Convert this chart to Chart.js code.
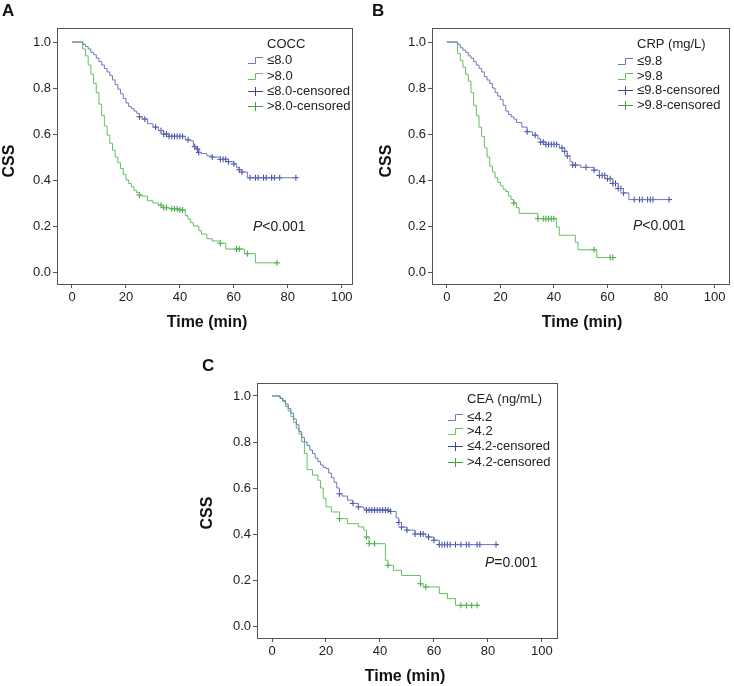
<!DOCTYPE html>
<html>
<head>
<meta charset="utf-8">
<script src="https://cdn.jsdelivr.net/npm/chart.js@4"></script>
<style>
    body { margin: 0; background: #fff; }
    canvas { position: absolute; }
</style>
</head>
<body>
<canvas id="chartA" width="367" height="330" style="left:0;top:0"></canvas>
<canvas id="chartB" width="364" height="330" style="left:370px;top:0"></canvas>
<canvas id="chartC" width="390" height="356" style="left:180px;top:330px"></canvas>
<script>
const xTicks = [0, 20, 40, 60, 80, 100];
const yTicks = [0, 0.2, 0.4, 0.6, 0.8, 1.0];

// Panel A - COCC
const aLowT = [0, 4, 5, 6, 7, 8, 9, 10, 11, 12, 13, 14, 15, 16, 17, 18, 19, 20, 21, 22, 23, 24, 25, 26, 28, 30, 32, 34, 36, 42, 44, 45, 46, 47, 48, 50, 52, 55, 58, 60, 61, 62, 63, 65];
const aLowS = [1.0, 0.99, 0.98, 0.97, 0.955, 0.945, 0.93, 0.915, 0.90, 0.885, 0.87, 0.855, 0.835, 0.815, 0.795, 0.775, 0.755, 0.735, 0.72, 0.71, 0.70, 0.69, 0.675, 0.665, 0.645, 0.63, 0.615, 0.60, 0.59, 0.575, 0.57, 0.545, 0.535, 0.52, 0.515, 0.505, 0.50, 0.49, 0.48, 0.47, 0.455, 0.445, 0.435, 0.41];
const aLowCens = [25, 27, 31, 33, 34, 35, 36, 37, 38, 39, 40, 41, 43, 45.5, 46.5, 47, 52, 55, 56, 57, 58, 60, 62, 63, 66, 68, 69, 71, 72, 74, 75, 77, 83];
const aHighT = [0, 4, 5, 6, 7, 8, 9, 10, 11, 12, 13, 14, 15, 16, 17, 18, 19, 20, 21, 22, 23, 24, 25, 26, 28, 30, 32, 34, 36, 40, 42, 43, 44, 45, 47, 48, 50, 52, 55, 57, 64, 68];
const aHighS = [1.0, 0.97, 0.94, 0.90, 0.86, 0.82, 0.78, 0.73, 0.68, 0.635, 0.595, 0.56, 0.53, 0.50, 0.475, 0.45, 0.425, 0.40, 0.385, 0.37, 0.355, 0.345, 0.335, 0.33, 0.31, 0.30, 0.29, 0.28, 0.275, 0.27, 0.245, 0.23, 0.215, 0.20, 0.18, 0.165, 0.145, 0.135, 0.125, 0.10, 0.08, 0.04];
const aHighCens = [25, 33, 34, 35, 37, 38, 39, 40, 41, 55, 61, 62, 65, 76];

// Panel B - CRP
const bLowT = [0, 4, 5, 6, 7, 8, 9, 10, 11, 12, 13, 14, 15, 16, 17, 18, 19, 20, 21, 22, 23, 24, 25, 26, 28, 30, 32, 34, 35, 37, 42, 44, 45, 46, 47, 50, 55, 57, 60, 62, 64, 66, 68];
const bLowS = [1.0, 0.99, 0.975, 0.965, 0.955, 0.94, 0.93, 0.915, 0.90, 0.885, 0.87, 0.85, 0.835, 0.82, 0.80, 0.78, 0.765, 0.75, 0.725, 0.70, 0.685, 0.675, 0.665, 0.65, 0.63, 0.61, 0.595, 0.58, 0.565, 0.555, 0.54, 0.525, 0.505, 0.48, 0.465, 0.455, 0.443, 0.42, 0.406, 0.385, 0.363, 0.344, 0.315];
const bLowCens = [30, 33, 35, 36, 37, 38, 39, 40, 41, 43, 44, 45, 47, 48, 52, 55, 57, 58, 59, 60, 61, 62, 63, 64, 65, 66, 70, 72, 73, 75, 76, 77, 83];
const bHighT = [0, 4, 5, 6, 7, 8, 9, 10, 11, 12, 13, 14, 15, 16, 17, 18, 19, 20, 21, 22, 23, 24, 25, 26, 27, 34, 41, 42, 48, 49, 56];
const bHighS = [1.0, 0.95, 0.92, 0.89, 0.86, 0.83, 0.78, 0.725, 0.68, 0.63, 0.59, 0.54, 0.50, 0.46, 0.435, 0.41, 0.39, 0.375, 0.36, 0.35, 0.33, 0.315, 0.30, 0.28, 0.255, 0.232, 0.196, 0.16, 0.13, 0.097, 0.063];
const bHighCens = [25, 34, 36, 37, 38, 39, 40, 55, 61, 62];

// Panel C - CEA
const cLowT = [0, 3, 4, 5, 6, 7, 8, 9, 10, 11, 12, 13, 14, 15, 16, 17, 18, 19, 20, 21, 22, 23, 24, 25, 26, 28, 30, 32, 34, 35, 44, 46, 47, 48, 50, 53, 57, 60, 62];
const cLowS = [1.0, 0.99, 0.98, 0.965, 0.945, 0.925, 0.90, 0.875, 0.845, 0.82, 0.80, 0.785, 0.765, 0.75, 0.73, 0.715, 0.70, 0.69, 0.685, 0.665, 0.645, 0.625, 0.60, 0.575, 0.565, 0.547, 0.533, 0.518, 0.51, 0.504, 0.498, 0.47, 0.45, 0.43, 0.417, 0.40, 0.387, 0.373, 0.354];
const cLowCens = [25, 30, 32, 35, 36, 37, 38, 39, 40, 41, 42, 43, 44, 47, 48, 50, 53, 55, 56, 58, 60, 62, 63, 64, 65, 66, 68, 70, 72, 73, 76, 77, 83];
const cHighT = [0, 3, 4, 5, 6, 7, 8, 9, 10, 11, 12, 13, 15, 17, 18, 19, 20, 22, 25, 28, 32, 34, 35, 36, 42, 43, 45, 48, 55, 56, 62, 65, 68];
const cHighS = [1.0, 0.99, 0.975, 0.955, 0.935, 0.91, 0.885, 0.86, 0.835, 0.80, 0.75, 0.68, 0.656, 0.634, 0.60, 0.555, 0.518, 0.496, 0.467, 0.445, 0.431, 0.417, 0.387, 0.358, 0.286, 0.264, 0.242, 0.22, 0.184, 0.17, 0.141, 0.119, 0.09];
const cHighCens = [25, 35, 36, 38, 43, 55, 57, 70, 72, 74, 76];

const BLUE_LINE = '#7176bb';
const BLUE_MARK = '#3545a0';
const GREEN_LINE = '#62c162';
const GREEN_MARK = '#3b9f3b';
const AXIS = '#555';
const FONT = "'Liberation Sans', Arial, sans-serif";

Chart.defaults.font.family = FONT;

function stepPoints(times, surv, end) {
    const pts = times.map((t, i) => ({ x: t, y: surv[i] }));
    pts.push({ x: end, y: surv[surv.length - 1] });
    return pts;
}

function censorPoints(times, surv, cens) {
    return cens.map(c => {
        let s = surv[0];
        times.forEach((t, i) => { if (t <= c) s = surv[i]; });
        return { x: c, y: s };
    });
}

// draws frame, panel letter, axis titles, legend and p value
const panelText = {
    id: 'panelText',
    afterDraw(chart, args, o) {
        const ctx = chart.ctx;
        const a = chart.chartArea;
        ctx.save();
        ctx.strokeStyle = AXIS;
        ctx.lineWidth = 1;
        ctx.strokeRect(Math.round(a.left) + 0.5, Math.round(a.top) + 0.5, Math.round(a.right - a.left), Math.round(a.bottom - a.top));

        ctx.fillStyle = '#111';
        ctx.textBaseline = 'middle';
        ctx.font = 'bold 17px ' + FONT;
        ctx.textAlign = 'left';
        ctx.fillText(o.letter, o.letterPos[0], o.letterPos[1]);

        ctx.font = 'bold 16px ' + FONT;
        ctx.textAlign = 'center';
        ctx.fillText('Time (min)', o.xTitle[0], o.xTitle[1]);
        ctx.save();
        ctx.translate(o.yTitle[0], o.yTitle[1]);
        ctx.rotate(-Math.PI / 2);
        ctx.fillText('CSS', 0, 0);
        ctx.restore();

        // legend
        ctx.font = '13px ' + FONT;
        ctx.textAlign = 'left';
        ctx.fillStyle = '#222';
        ctx.fillText(o.legendTitle, o.legendX, o.legendY[0]);
        const ix = o.legendX - 19;
        o.labels.forEach((lab, i) => {
            const y = o.legendY[i + 1];
            ctx.fillStyle = '#222';
            ctx.fillText(lab, o.legendX, y);
            ctx.lineWidth = 1;
            if (i < 2) {
                ctx.strokeStyle = i === 0 ? BLUE_LINE : GREEN_LINE;
                ctx.beginPath();
                ctx.moveTo(ix, y + 3.5);
                ctx.lineTo(ix + 7.5, y + 3.5);
                ctx.lineTo(ix + 7.5, y - 2.5);
                ctx.lineTo(ix + 15, y - 2.5);
                ctx.stroke();
            } else {
                ctx.strokeStyle = i === 2 ? BLUE_MARK : GREEN_MARK;
                ctx.beginPath();
                ctx.moveTo(ix, y + 0.5);
                ctx.lineTo(ix + 15, y + 0.5);
                ctx.moveTo(ix + 7.5, y - 4);
                ctx.lineTo(ix + 7.5, y + 5);
                ctx.stroke();
            }
        });

        // p value
        ctx.fillStyle = '#222';
        ctx.font = 'italic 14px ' + FONT;
        ctx.fillText('P', o.pPos[0], o.pPos[1]);
        const pw = ctx.measureText('P').width;
        ctx.font = '14px ' + FONT;
        ctx.fillText(o.pText, o.pPos[0] + pw, o.pPos[1]);
        ctx.restore();
    }
};

function makeChart(id, p) {
    const canvas = document.getElementById(id);
    const lowEnd = p.lowCens[p.lowCens.length - 1];
    const highEnd = p.highCens[p.highCens.length - 1];
    return new Chart(canvas.getContext('2d'), {
        type: 'line',
        data: {
            datasets: [
                { data: stepPoints(p.lowT, p.lowS, lowEnd), borderColor: BLUE_LINE, borderWidth: 1, stepped: true, pointRadius: 0 },
                { data: stepPoints(p.highT, p.highS, highEnd), borderColor: GREEN_LINE, borderWidth: 1, stepped: true, pointRadius: 0 },
                { data: censorPoints(p.lowT, p.lowS, p.lowCens), showLine: false, pointStyle: 'cross', pointRadius: 3, borderColor: BLUE_MARK, borderWidth: 1 },
                { data: censorPoints(p.highT, p.highS, p.highCens), showLine: false, pointStyle: 'cross', pointRadius: 3, borderColor: GREEN_MARK, borderWidth: 1 }
            ]
        },
        options: {
            responsive: false,
            animation: false,
            layout: { padding: { top: p.box[1], right: canvas.width - p.box[2], left: 0, bottom: 0 } },
            scales: {
                x: {
                    type: 'linear',
                    min: p.xMin,
                    max: p.xMax,
                    afterBuildTicks: s => { s.ticks = xTicks.map(v => ({ value: v })); },
                    afterFit: s => { s.height = canvas.height - p.box[3]; },
                    grid: { drawOnChartArea: false, tickLength: 4, color: AXIS },
                    border: { color: AXIS },
                    ticks: { padding: 2, color: '#222', font: { size: 13 }, maxRotation: 0, autoSkip: false, callback: v => String(v) }
                },
                y: {
                    type: 'linear',
                    min: p.yMin,
                    max: p.yMax,
                    afterBuildTicks: s => { s.ticks = yTicks.map(v => ({ value: v })); },
                    afterFit: s => { s.width = p.box[0]; },
                    grid: { drawOnChartArea: false, tickLength: 4, color: AXIS },
                    border: { color: AXIS },
                    ticks: { padding: 2, color: '#222', font: { size: 13 }, autoSkip: false, callback: v => v.toFixed(1) }
                }
            },
            plugins: {
                legend: { display: false },
                tooltip: { enabled: false },
                panelText: p.text
            }
        },
        plugins: [panelText]
    });
}

makeChart('chartA', {
    lowT: aLowT, lowS: aLowS, lowCens: aLowCens,
    highT: aHighT, highS: aHighS, highCens: aHighCens,
    box: [57, 28, 352, 284],
    xMin: -5.56, xMax: 103.8, yMin: -0.052, yMax: 1.061,
    text: {
        letter: 'A', letterPos: [2, 11],
        yTitle: [10, 161], xTitle: [207, 323],
        legendTitle: 'COCC', legendX: 267, legendY: [44, 60, 76, 91, 106],
        labels: ['≤8.0', '>8.0', '≤8.0-censored', '>8.0-censored'],
        pPos: [253, 227], pText: '<0.001'
    }
});

makeChart('chartB', {
    lowT: bLowT, lowS: bLowS, lowCens: bLowCens,
    highT: bHighT, highS: bHighS, highCens: bHighCens,
    box: [62, 28, 362, 284],
    xMin: -5.56, xMax: 105.4, yMin: -0.052, yMax: 1.061,
    text: {
        letter: 'B', letterPos: [2, 11],
        yTitle: [17, 161], xTitle: [212, 323],
        legendTitle: 'CRP (mg/L)', legendX: 267, legendY: [44, 61, 76, 90, 105],
        labels: ['≤9.8', '>9.8', '≤9.8-censored', '>9.8-censored'],
        pPos: [263, 226], pText: '<0.001'
    }
});

makeChart('chartC', {
    lowT: cLowT, lowS: cLowS, lowCens: cLowCens,
    highT: cHighT, highS: cHighS, highCens: cHighCens,
    box: [77, 53, 377, 308],
    xMin: -5.56, xMax: 105.6, yMin: -0.052, yMax: 1.0565,
    text: {
        letter: 'C', letterPos: [22, 36],
        yTitle: [28, 183], xTitle: [225, 347],
        legendTitle: 'CEA (ng/mL)', legendX: 287, legendY: [69, 87, 101, 116, 132],
        labels: ['≤4.2', '>4.2', '≤4.2-censored', '>4.2-censored'],
        pPos: [305, 233], pText: '=0.001'
    }
});
</script>
</body>
</html>
